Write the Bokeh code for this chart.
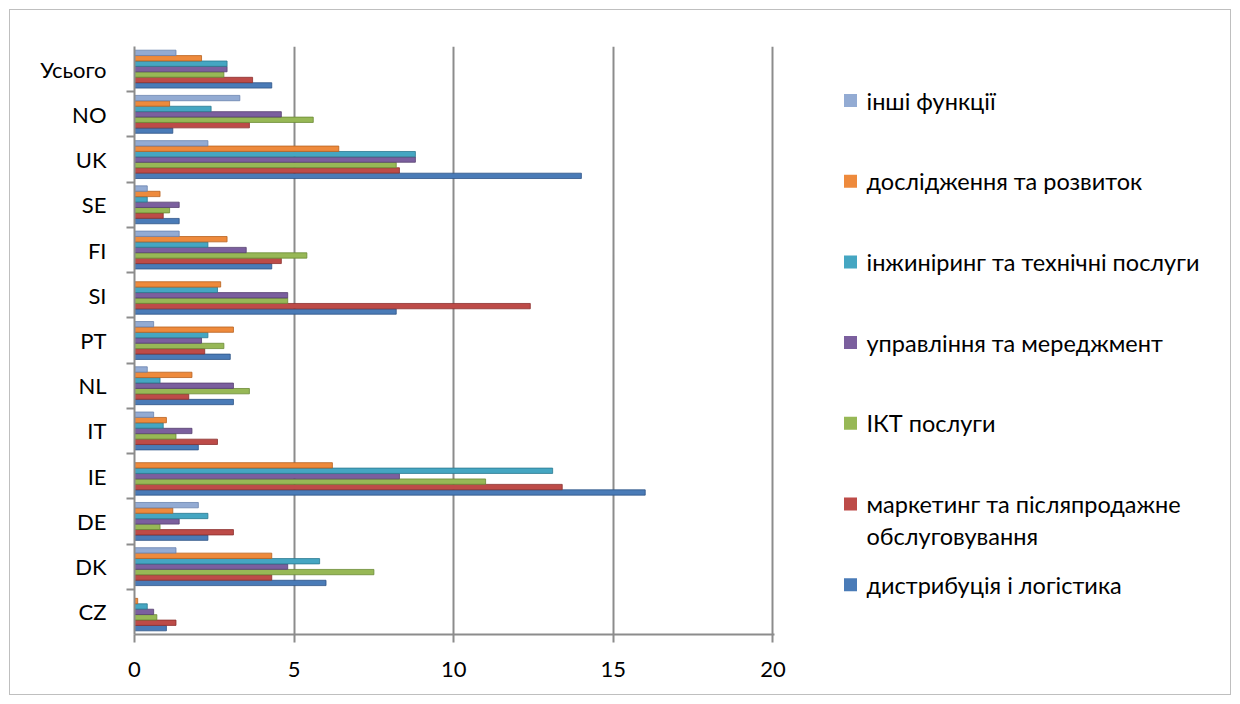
from bokeh.plotting import figure
from bokeh.layouts import row
from bokeh.models import FactorRange, Range1d, CategoricalAxis, FixedTicker, ColumnDataSource
from bokeh.transform import dodge
from bokeh.core.properties import value
from bokeh.embed import file_html
from bokeh.resources import INLINE

# Countries, bottom to top
countries = ["CZ", "DK", "DE", "IE", "IT", "NL", "PT", "SI", "FI", "SE", "UK", "NO", "Усього"]

# Share by business function, one list per series
distribution = [1.0, 6.0, 2.3, 16.0, 2.0, 3.1, 3.0, 8.2, 4.3, 1.4, 14.0, 1.2, 4.3]
marketing = [1.3, 4.3, 3.1, 13.4, 2.6, 1.7, 2.2, 12.4, 4.6, 0.9, 8.3, 3.6, 3.7]
ict = [0.7, 7.5, 0.8, 11.0, 1.3, 3.6, 2.8, 4.8, 5.4, 1.1, 8.2, 5.6, 2.8]
management = [0.6, 4.8, 1.4, 8.3, 1.8, 3.1, 2.1, 4.8, 3.5, 1.4, 8.8, 4.6, 2.9]
engineering = [0.4, 5.8, 2.3, 13.1, 0.9, 0.8, 2.3, 2.6, 2.3, 0.4, 8.8, 2.4, 2.9]
rnd = [0.1, 4.3, 1.2, 6.2, 1.0, 1.8, 3.1, 2.7, 2.9, 0.8, 6.4, 1.1, 2.1]
other = [0.0, 1.3, 2.0, 0.0, 0.6, 0.4, 0.6, 0.0, 1.4, 0.4, 2.3, 3.3, 1.3]

series_names = [
    "дистрибуція і логістика",
    "маркетинг та післяпродажне\nобслуговування",
    "ІКТ послуги",
    "управління та мереджмент",
    "інжиніринг та технічні послуги",
    "дослідження та розвиток",
    "інші функції",
]
series_values = [distribution, marketing, ict, management, engineering, rnd, other]
fills = ["#4A7BB7", "#BD4B48", "#97B856", "#7B5F9E", "#45A6C2", "#EE8A3C", "#93ABD3"]
edges = ["#2E5486", "#8A302E", "#6B8A35", "#56406F", "#2C7A90", "#B8621F", "#6A83AE"]

x_ticks = [0, 5, 10, 15, 20]

FONT = "Lato"
AXIS_FONT_SIZE = "22px"
LEGEND_FONT_SIZE = "23.5px"
GRID = "#8C8C8C"

src = ColumnDataSource(dict(country=countries, **{f"s{i}": v for i, v in enumerate(series_values)}))

p = figure(width=790, height=684, output_backend="svg", toolbar_location=None,
           y_range=FactorRange(*countries), x_range=Range1d(0, 20.05),
           y_axis_location=None, x_axis_location="below",
           min_border_left=124, min_border_right=26, min_border_top=36, min_border_bottom=60)
p.outline_line_color = None
p.background_fill_color = "white"
p.border_fill_color = "white"
p.ygrid.grid_line_color = None
p.xgrid.ticker = FixedTicker(ticks=x_ticks[1:])
p.xgrid.grid_line_color = GRID
p.xgrid.grid_line_width = 2

# bottom value axis
xa = p.xaxis[0]
xa.ticker = FixedTicker(ticks=x_ticks)
xa.axis_line_color = GRID
xa.axis_line_width = 2
xa.major_tick_line_color = GRID
xa.major_tick_line_width = 2
xa.major_tick_out = 8
xa.major_tick_in = 0
xa.minor_tick_line_color = None
xa.major_label_text_font = FONT
xa.major_label_text_font_size = AXIS_FONT_SIZE
xa.major_label_text_color = "black"
xa.major_label_standoff = 19

# boundary ticks between country groups: one factor per edge, shifted by half a band
edge_factors = [f"e{k}" for k in range(len(countries) + 1)]
p.extra_y_ranges = {"edges": FactorRange(factors=edge_factors, range_padding=-0.5,
                                         range_padding_units="absolute")}
ta = CategoricalAxis(y_range_name="edges")
ta.axis_line_color = GRID
ta.axis_line_width = 2
ta.major_tick_line_color = GRID
ta.major_tick_line_width = 2
ta.major_tick_out = 8
ta.major_tick_in = 0
ta.major_label_text_font_size = "0px"
ta.major_label_text_color = None
ta.major_label_standoff = 0
p.add_layout(ta, "left")

ca = CategoricalAxis()
ca.axis_line_color = None
ca.major_tick_line_color = None
ca.major_label_text_font = FONT
ca.major_label_text_font_size = AXIS_FONT_SIZE
ca.major_label_text_color = "black"
ca.major_label_standoff = 14
p.add_layout(ca, "left")

step = 0.12
for i, (col, ec) in enumerate(zip(fills, edges)):
    p.hbar(y=dodge("country", (i - 3) * step, range=p.y_range), left=0, right=f"s{i}",
           height=step * 0.98, source=src, fill_color=col, line_color=ec, line_width=0.8)

# legend panel; its frame lines up with the chart frame, y grows downwards
leg = figure(width=430, height=684, output_backend="svg", toolbar_location=None,
             x_range=Range1d(0, 430), y_range=Range1d(634, 46),
             x_axis_location=None, y_axis_location=None,
             min_border=0)
leg.outline_line_color = None
leg.grid.grid_line_color = None
leg.background_fill_color = "white"
leg.border_fill_color = "white"

row_gap = 80.7
line_gap = 32
for k, i in enumerate(reversed(range(len(series_names)))):
    yc = 100 + k * row_gap
    leg.rect(x=[50], y=[yc], width=13, height=13, fill_color=fills[i], line_color=None)
    for j, line in enumerate(series_names[i].split("\n")):
        leg.text(x=[66], y=[yc + j * line_gap], text=[line], text_font=value(FONT),
                 text_font_size=LEGEND_FONT_SIZE, text_color="black",
                 text_baseline="middle", text_align="left")

layout = row(p, leg, margin=(9, 0, 0, 9), styles={"border": "1px solid #BFBFBF"})

open("out.html", "w").write(file_html(layout, INLINE))
